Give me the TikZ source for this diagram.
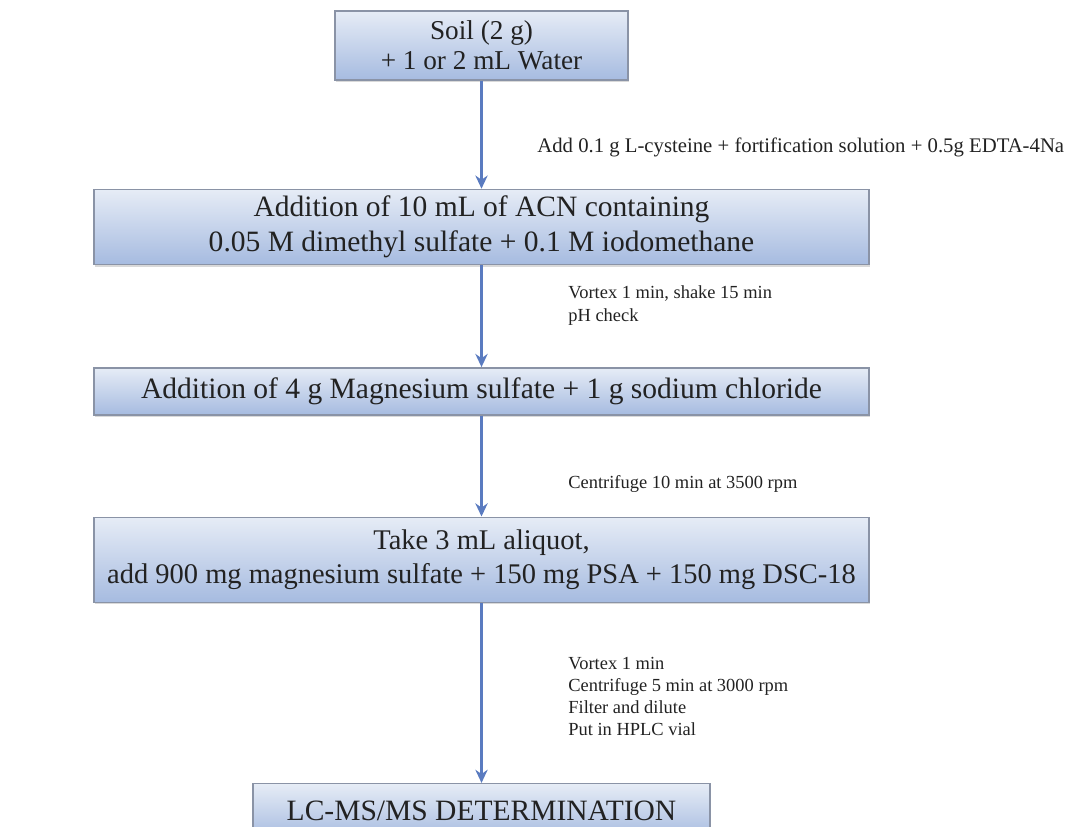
\documentclass[tikz,border=0pt]{standalone}
\usepackage{fontspec}
\setmainfont{Liberation Serif}
\usetikzlibrary{positioning, arrows.meta, calc, shadows}

\definecolor{boxtop}{HTML}{E6ECF6}
\definecolor{boxbottom}{HTML}{A6BBE0}
\definecolor{boxline}{HTML}{8A93A6}
\definecolor{flowblue}{HTML}{5A7BC0}
\definecolor{inkgray}{HTML}{222222}

\begin{document}
\begin{tikzpicture}[
    >={Stealth[length=7.5pt,width=7pt]},
    node distance=2cm,
    % Styles
    stepbox/.style={
        draw=boxline, line width=0.8pt, rectangle,
        top color=boxtop, bottom color=boxbottom,
        drop shadow={shadow xshift=0.6pt, shadow yshift=-1.2pt, opacity=0.3},
        align=center, inner sep=2pt, text=inkgray,
        font=\fontsize{16.8}{19.5}\selectfont
    },
    note/.style={font=\fontsize{10.5}{12.6}\selectfont, align=left, anchor=west, text=inkgray, inner sep=0pt},
    flow/.style={->, draw=flowblue, line width=1.3pt}
  ]
    \useasboundingbox (0,0) rectangle (21.72,-16.52);

    % --- Steps ---
    \node (soil) [stepbox, minimum width=5.86cm, minimum height=1.38cm, font=\fontsize{15.5}{17}\selectfont] at (9.63,-0.91) {Soil (2 g)\\+ 1 or 2 mL Water};
    \node (acn) [stepbox, minimum width=15.5cm, minimum height=1.5cm, below=2.16cm of soil] {Addition of 10 mL of ACN containing\\0.05 M dimethyl sulfate + 0.1 M iodomethane};
    \node (salt) [stepbox, minimum width=15.5cm, minimum height=0.94cm, below=2.04cm of acn] {Addition of 4 g Magnesium sulfate + 1 g sodium chloride};
    \node (clean) [stepbox, minimum width=15.5cm, minimum height=1.7cm, below=2.02cm of salt, font=\fontsize{16.2}{19.5}\selectfont] {Take 3 mL aliquot,\\add 900 mg magnesium sulfate + 150 mg PSA + 150 mg DSC-18};
    \node (lcms) [stepbox, minimum width=9.14cm, minimum height=1.1cm, below=3.6cm of clean, anchor=north] {LC-MS/MS DETERMINATION};

    % --- Flow ---
    \draw[flow] (soil) -- (acn);
    \draw[flow] (acn) -- (salt);
    \draw[flow] (salt) -- (clean);
    \draw[flow] (clean.south) -- (lcms.north);

    % --- Step notes ---
    \node (addnote) [note, font=\fontsize{11.8}{13}\selectfont] at ($(soil.south)+(1.11,-1.34)$) {Add 0.1 g L-cysteine + fortification solution + 0.5g EDTA-4Na};
    \node (shakenote) [note] at ($(acn.south)+(1.73,-0.81)$) {Vortex 1 min, shake 15 min\\pH check};
    \node (spinnote) [note] at ($(salt.south)+(1.73,-1.36)$) {Centrifuge 10 min at 3500 rpm};
    \node (vialnote) [note] at ($(clean.south)+(1.73,-1.87)$) {Vortex 1 min\\Centrifuge 5 min at 3000 rpm\\Filter and dilute\\Put in HPLC vial};

\end{tikzpicture}
\end{document}
